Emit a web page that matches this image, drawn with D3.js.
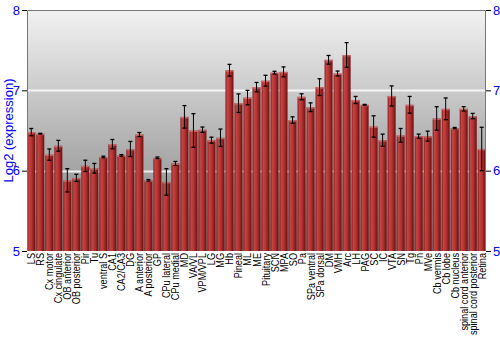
<!DOCTYPE html>
<html lang="en">
  <head>
    <meta charset="UTF-8">
    <title>Log2 expression by tissue</title>
    <style>
      body { margin: 0; background: #fff; }
      .tick text { font: 13px "Liberation Sans", Arial, sans-serif; fill: #0000ff; }
      .xlab text { font: 11px "Liberation Sans", Arial, sans-serif; fill: #000; }
    </style>
  </head>
  <body>
    <script src="https://cdn.jsdelivr.net/npm/d3@7/dist/d3.min.js"></script>
    <script>
      // tissue names, mean log2 values and +/- error
      const tissues = ["LS", "RS", "Cx motor", "Cx cingulate", "OB anterior", "OB posterior", "Pir", "Tu",
        "ventral S", "CA1", "CA2/CA3", "DG", "A anterior", "A posterior", "GP", "CPu lateral", "CPu medial",
        "MD", "VA/VL", "VPM/VPL", "LG", "MG", "Hb", "Pineal", "ML", "ME", "Pituitary", "SCN", "MPA", "SO",
        "Pa", "SPa ventral", "SPa dorsal", "DM", "VMH", "Arc", "LH", "PAG", "SC", "IC", "VTA", "SN", "Tg",
        "Pn", "MVe", "Cb vermis", "Cb lobe", "Cb nucleus", "spinal cord anterior", "spinal cord posterior", "Retina"];
      const values = [6.48, 6.46, 6.20, 6.31, 5.88, 5.91, 6.06, 6.03, 6.17, 6.33, 6.19, 6.27, 6.45, 5.88,
        6.16, 5.86, 6.09, 6.67, 6.50, 6.51, 6.38, 6.41, 7.25, 6.84, 6.91, 7.04, 7.12, 7.22, 7.23, 6.63,
        6.92, 6.79, 7.04, 7.38, 7.21, 7.44, 6.88, 6.82, 6.55, 6.38, 6.93, 6.44, 6.82, 6.43, 6.43, 6.65,
        6.77, 6.53, 6.77, 6.68, 6.27];
      const errors = [0.045, 0.005, 0.07, 0.067, 0.145, 0.045, 0.07, 0.06, 0.01, 0.058, 0.01, 0.094, 0.025,
        0.01, 0.01, 0.165, 0.025, 0.14, 0.21, 0.033, 0.037, 0.108, 0.073, 0.115, 0.09, 0.058, 0.067, 0.017,
        0.062, 0.04, 0.037, 0.054, 0.104, 0.054, 0.03, 0.154, 0.044, 0.005, 0.133, 0.075, 0.125, 0.085,
        0.104, 0.025, 0.062, 0.146, 0.135, 0.008, 0.027, 0.033, 0.27];
      const yTicks = [5, 6, 7, 8];

      const width = 500, height = 350;
      const margin = { top: 10, right: 14, bottom: 99, left: 27 };
      const iw = width - margin.left - margin.right;
      const ih = height - margin.top - margin.bottom;

      const svg = d3.select("body").append("svg")
        .attr("width", width)
        .attr("height", height);

      const defs = svg.append("defs");
      const bg = defs.append("linearGradient").attr("id", "bg")
        .attr("x1", 0).attr("y1", 0).attr("x2", 0).attr("y2", 1);
      bg.append("stop").attr("offset", "0%").attr("stop-color", "#f2f2f2");
      bg.append("stop").attr("offset", "100%").attr("stop-color", "#7c7c7c");

      const barGrad = defs.append("linearGradient").attr("id", "bar")
        .attr("x1", 0).attr("y1", 0).attr("x2", 1).attr("y2", 0);
      barGrad.append("stop").attr("offset", "0%").attr("stop-color", "#7a1616");
      barGrad.append("stop").attr("offset", "20%").attr("stop-color", "#c54444");
      barGrad.append("stop").attr("offset", "55%").attr("stop-color", "#b53232");
      barGrad.append("stop").attr("offset", "100%").attr("stop-color", "#6a0f0f");

      const g = svg.append("g")
        .attr("transform", `translate(${margin.left},${margin.top})`);

      const x = d3.scaleBand().domain(tissues).range([0, iw]).paddingInner(0.11).paddingOuter(0.03);
      const y = d3.scaleLinear().domain([5, 8]).range([ih, 0]);

      g.append("rect")
        .attr("width", iw).attr("height", ih)
        .attr("fill", "url(#bg)");

      // grid lines
      g.selectAll("line.grid")
        .data([6, 7])
        .enter().append("line")
        .attr("class", "grid")
        .attr("x1", 0).attr("x2", iw)
        .attr("y1", d => Math.round(y(d)) + 0.5).attr("y2", d => Math.round(y(d)) + 0.5)
        .attr("stroke", "#fff").attr("stroke-opacity", 0.8).attr("stroke-width", 2);

      const data = tissues.map((t, i) => ({ name: t, v: values[i], e: errors[i] }));

      // bars
      g.selectAll("rect.bar")
        .data(data)
        .enter().append("rect")
        .attr("class", "bar")
        .attr("x", d => x(d.name))
        .attr("y", d => y(d.v))
        .attr("width", x.bandwidth())
        .attr("height", d => ih - y(d.v))
        .attr("fill", "url(#bar)");

      // light cap at bar top
      g.selectAll("rect.cap")
        .data(data)
        .enter().append("rect")
        .attr("x", d => x(d.name))
        .attr("y", d => y(d.v))
        .attr("width", x.bandwidth())
        .attr("height", 1.5)
        .attr("fill", "#d88080").attr("opacity", 0.7);

      // error bars
      const eb = g.selectAll("g.err")
        .data(data)
        .enter().append("g")
        .attr("transform", d => `translate(${x(d.name) + x.bandwidth() / 2},0)`);
      eb.append("line")
        .attr("y1", d => y(d.v + d.e)).attr("y2", d => y(d.v - d.e))
        .attr("stroke", "#000").attr("stroke-width", 1);
      eb.selectAll("line.c")
        .data(d => [d.v + d.e, d.v - d.e])
        .enter().append("line")
        .attr("x1", -2).attr("x2", 2)
        .attr("y1", d => y(d)).attr("y2", d => y(d))
        .attr("stroke", "#000").attr("stroke-width", 1.3);

      // frame
      g.append("path")
        .attr("d", `M0.5,${ih}V0.5H${iw - 0.5}V${ih}`)
        .attr("fill", "none").attr("stroke", "#777").attr("stroke-width", 1);

      // y axes
      const left = g.append("g")
        .call(d3.axisLeft(y).tickValues(yTicks).tickFormat(d3.format("d")).tickSize(5).tickPadding(2));
      left.select(".domain").remove();
      left.selectAll(".tick line").attr("stroke", "#000");

      const right = g.append("g")
        .attr("transform", `translate(${iw},0)`)
        .call(d3.axisRight(y).tickValues(yTicks).tickFormat(d3.format("d")).tickSize(5).tickPadding(2));
      right.select(".domain").remove();
      right.selectAll(".tick line").attr("stroke", "#000");

      // x labels (condensed along the text direction)
      const xl = g.append("g").attr("class", "xlab")
        .attr("transform", `translate(0,${ih + 2})`);
      xl.selectAll("text")
        .data(tissues)
        .enter().append("text")
        .attr("transform", d => `translate(${x(d) + x.bandwidth() / 2 + 4},0) rotate(-90) scale(0.83,1)`)
        .attr("text-anchor", "end")
        .text(d => d);

      svg.append("text")
        .attr("transform", `translate(13,${margin.top + ih / 2}) rotate(-90)`)
        .attr("text-anchor", "middle")
        .style("font", "13px 'Liberation Sans', Arial, sans-serif")
        .attr("fill", "#0000ff")
        .text("Log2 (expression)");
    </script>
  </body>
</html>
